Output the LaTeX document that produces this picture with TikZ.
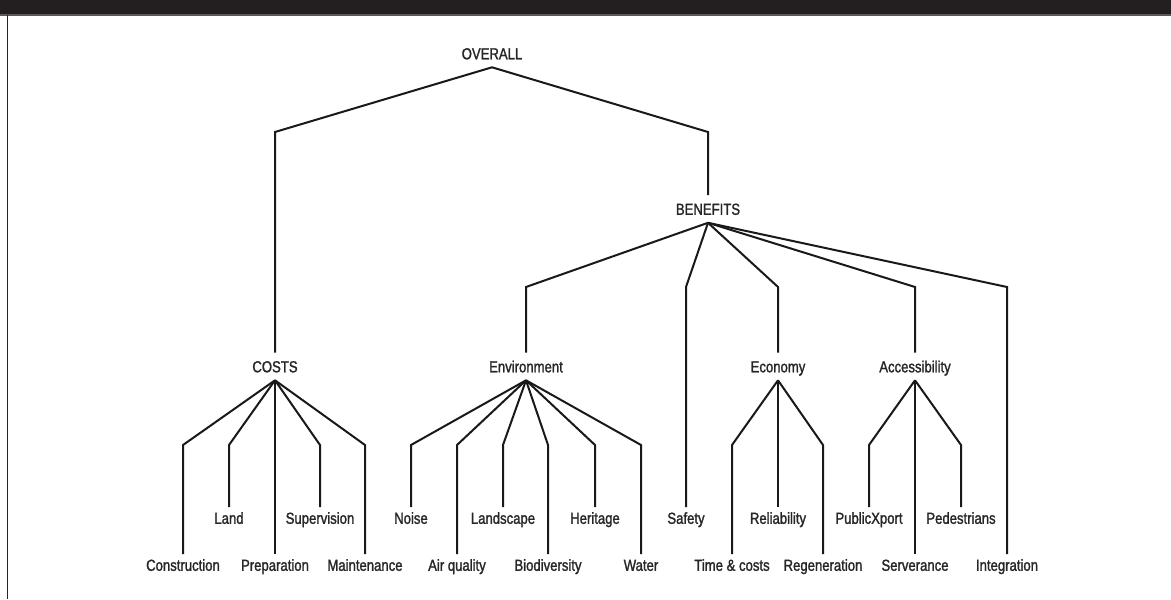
\documentclass[tikz,border=0pt]{standalone}
\usepackage{fontspec}
\setmainfont[FakeStretch=0.82, FakeBold=1.5]{Liberation Sans}
\usepackage{tikz}

\begin{document}
\begin{tikzpicture}[x=0.5pt,y=-0.5pt,
	lbl/.style={font=\fontsize{8}{9}\selectfont, text=black!85, text height=5.8pt, text depth=0pt, inner xsep=0pt, outer sep=0pt},
	mid/.style={lbl, inner ysep=4pt},
	leaf/.style={lbl, inner ysep=2.5pt},
	branch/.style={line width=1pt, black!90, line join=miter}]

	\useasboundingbox (0,0) rectangle (1171,599);

	% Frame
	\fill[fill={rgb,255:red,35;green,31;blue,32}] (0,0) rectangle (1171,15);
	\draw[black!65, line width=0.6pt] (0,15) -- (1171,15);
	\draw[black!85, line width=0.9pt] (7.5,15) -- (7.5,599);

	% Elbow rows
	\coordinate (rowA) at (0,132);
	\coordinate (rowB) at (0,287);
	\coordinate (rowC) at (0,445);

	% Top levels
	\node[mid] (overall) at (492,53.5) {OVERALL};
	\node[mid] (benefits) at (708,209) {BENEFITS};
	\node[mid] (costs) at (275,366.5) {COSTS};
	\node[mid] (env) at (526,366.5) {Environment};
	\node[mid] (eco) at (778,366.5) {Economy};
	\node[mid] (acc) at (915,366.5) {Accessibility};

	% Leaves, upper row
	\node[leaf] (land) at (229,518) {Land};
	\node[leaf] (sup) at (320,518) {Supervision};
	\node[leaf] (noise) at (411,518) {Noise};
	\node[leaf] (lands) at (503,518) {Landscape};
	\node[leaf] (herit) at (595,518) {Heritage};
	\node[leaf] (safety) at (686,518) {Safety};
	\node[leaf] (rel) at (778,518) {Reliability};
	\node[leaf] (pub) at (869,518) {PublicXport};
	\node[leaf] (ped) at (961,518) {Pedestrians};

	% Leaves, lower row
	\node[leaf] (cons) at (183,565) {Construction};
	\node[leaf] (prep) at (275,565) {Preparation};
	\node[leaf] (maint) at (365,565) {Maintenance};
	\node[leaf] (air) at (457,565) {Air quality};
	\node[leaf] (bio) at (548,565) {Biodiversity};
	\node[leaf] (water) at (641,565) {Water};
	\node[leaf] (time) at (732,565) {Time \& costs};
	\node[leaf] (regen) at (823,565) {Regeneration};
	\node[leaf] (serv) at (915,565) {Serverance};
	\node[leaf] (integ) at (1007,565) {Integration};

	% Branches
	\foreach \c in {costs,benefits}
		\draw[branch] (overall.south) -- (\c.north |- rowA) -- (\c.north);
	\foreach \c in {env,safety,eco,acc,integ}
		\draw[branch] (benefits.south) -- (\c.north |- rowB) -- (\c.north);
	\foreach \c in {cons,land,prep,sup,maint}
		\draw[branch] (costs.south) -- (\c.north |- rowC) -- (\c.north);
	\foreach \c in {noise,air,lands,bio,herit,water}
		\draw[branch] (env.south) -- (\c.north |- rowC) -- (\c.north);
	\foreach \c in {time,rel,regen}
		\draw[branch] (eco.south) -- (\c.north |- rowC) -- (\c.north);
	\foreach \c in {pub,serv,ped}
		\draw[branch] (acc.south) -- (\c.north |- rowC) -- (\c.north);

\end{tikzpicture}
\end{document}
